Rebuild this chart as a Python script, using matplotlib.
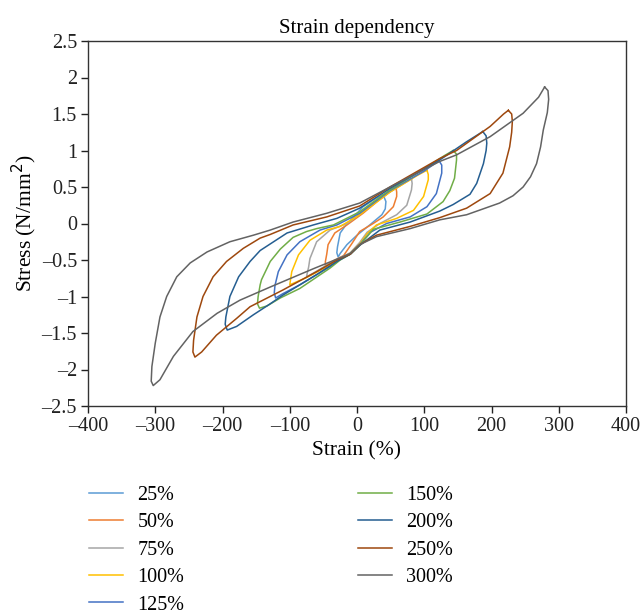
import matplotlib
matplotlib.use("Agg")
import matplotlib.pyplot as plt

plt.rcParams['font.family'] = ['Liberation Serif', 'DejaVu Serif']

labels = ["25%", "50%", "75%", "100%", "125%", "150%", "200%", "250%", "300%"]
colors = ["#5B9BD5", "#ED7D31", "#A5A5A5", "#FFC000", "#4472C4", "#70AD47",
          "#255E91", "#9E480E", "#636363"]

strain_25 = [39, 43, 42, 37, 19, 0, -15, -25, -28, -30, -29, -25, -18, -8, 9, 29, 39]
stress_25 = [0.39, 0.30, 0.20, 0.12, -0.02, -0.16, -0.29, -0.41, -0.46, -0.40, -0.32,
             -0.13, -0.04, 0.06, 0.23, 0.35, 0.39]

strain_50 = [58, 59, 59, 54, 39, 24, 4, -8, -20, -35, -47, -47, -45, -43, -33, -15, 9, 30, 50, 58]
stress_50 = [0.49, 0.43, 0.37, 0.23, 0.09, 0.00, -0.11, -0.28, -0.44, -0.51, -0.58, -0.52,
             -0.42, -0.29, -0.13, -0.02, 0.14, 0.30, 0.44, 0.49]

strain_75 = [81, 82, 81, 74, 59, 34, 15, 4, -10, -25, -45, -65, -75, -74, -72, -70, -60,
             -40, -15, 9, 40, 70, 81]
stress_75 = [0.61, 0.55, 0.46, 0.25, 0.12, 0.00, -0.12, -0.26, -0.40, -0.47, -0.57, -0.68,
             -0.73, -0.68, -0.60, -0.48, -0.25, -0.09, 0.00, 0.16, 0.38, 0.55, 0.61]

strain_100 = [104, 106, 106, 99, 84, 59, 29, 15, 4, -10, -25, -40, -75, -95, -100, -99, -97,
              -87, -70, -45, -25, 4, 49, 90, 104]
stress_100 = [0.73, 0.67, 0.60, 0.37, 0.18, 0.07, -0.02, -0.14, -0.28, -0.41, -0.48, -0.57,
              -0.74, -0.82, -0.84, -0.78, -0.66, -0.43, -0.23, -0.09, -0.04, 0.12, 0.43,
              0.66, 0.73]

strain_125 = [122, 126, 126, 118, 104, 79, 44, 20, 4, -10, -25, -40, -85, -110, -121, -123,
              -122, -117, -104, -85, -55, -30, 4, 49, 100, 122]
stress_125 = [0.86, 0.80, 0.69, 0.41, 0.23, 0.09, 0.00, -0.12, -0.29, -0.42, -0.49, -0.59,
              -0.84, -0.96, -1.02, -0.95, -0.85, -0.66, -0.43, -0.25, -0.09, -0.02, 0.14,
              0.45, 0.72, 0.86]

strain_150 = [143, 148, 148, 145, 138, 128, 104, 64, 24, 4, -10, -25, -40, -85, -114, -134,
              -145, -148, -147, -144, -142, -129, -114, -95, -75, -60, -35, 4, 49, 100, 130, 143]
stress_150 = [1.00, 0.95, 0.87, 0.62, 0.45, 0.30, 0.13, 0.02, -0.08, -0.30, -0.42, -0.50,
              -0.61, -0.89, -1.02, -1.13, -1.16, -1.10, -1.00, -0.84, -0.77, -0.52, -0.35,
              -0.19, -0.11, -0.07, -0.02, 0.16, 0.46, 0.75, 0.93, 1.00]

strain_200 = [187, 192, 193, 192, 188, 178, 168, 143, 123, 79, 34, 4, -10, -30, -60, -110,
              -129, -154, -179, -193, -196, -195, -189, -176, -159, -144, -129, -104, -65,
              -30, 4, 49, 123, 163, 182, 187]
stress_200 = [1.26, 1.20, 1.10, 1.00, 0.82, 0.55, 0.40, 0.26, 0.17, 0.02, -0.09, -0.30,
              -0.42, -0.52, -0.70, -0.98, -1.10, -1.25, -1.41, -1.46, -1.38, -1.28, -1.00,
              -0.73, -0.52, -0.37, -0.28, -0.13, -0.02, 0.07, 0.21, 0.48, 0.87, 1.12, 1.23, 1.26]

strain_250 = [225, 230, 231, 230, 227, 217, 198, 163, 123, 79, 29, 4, -10, -30, -60, -110,
              -159, -179, -209, -231, -241, -244, -243, -238, -229, -214, -194, -169, -144,
              -129, -95, -45, 4, 49, 123, 148, 198, 218, 225]
stress_250 = [1.55, 1.50, 1.40, 1.25, 1.05, 0.69, 0.41, 0.21, 0.08, -0.04, -0.16, -0.29,
              -0.42, -0.50, -0.66, -0.91, -1.14, -1.30, -1.53, -1.76, -1.83, -1.76, -1.60,
              -1.28, -1.00, -0.73, -0.52, -0.34, -0.20, -0.15, -0.02, 0.09, 0.24, 0.50, 0.89,
              1.00, 1.33, 1.50, 1.55]

strain_300 = [279, 284, 285, 283, 277, 273, 267, 258, 247, 232, 212, 163, 123, 79, 29, 4,
              -10, -25, -65, -129, -174, -208, -244, -273, -293, -303, -306, -305, -300, -293,
              -283, -268, -248, -223, -189, -154, -129, -95, -45, 4, 49, 123, 148, 198, 247,
              270, 279]
stress_300 = [1.87, 1.82, 1.70, 1.52, 1.28, 1.05, 0.82, 0.64, 0.50, 0.38, 0.28, 0.12, 0.05,
              -0.07, -0.18, -0.29, -0.41, -0.47, -0.62, -0.87, -1.05, -1.23, -1.48, -1.82,
              -2.14, -2.22, -2.16, -1.96, -1.64, -1.28, -1.00, -0.73, -0.54, -0.39, -0.25,
              -0.16, -0.09, 0.02, 0.14, 0.28, 0.50, 0.85, 0.94, 1.19, 1.51, 1.73, 1.87]

series = [(strain_25, stress_25), (strain_50, stress_50), (strain_75, stress_75),
          (strain_100, stress_100), (strain_125, stress_125), (strain_150, stress_150),
          (strain_200, stress_200), (strain_250, stress_250), (strain_300, stress_300)]

x_ticks = [-400, -300, -200, -100, 0, 100, 200, 300, 400]
y_ticks = [-2.5, -2, -1.5, -1, -0.5, 0, 0.5, 1, 1.5, 2, 2.5]


def fmt(v):
    s = "%g" % v
    return s.replace("-", "\u2013")


fig = plt.figure(figsize=(6.41, 6.16), dpi=100)
ax = fig.add_axes([88/641, 1-406/616, (626-88)/641, (406-41)/616])

for (xs, ys), lab, col in zip(series, labels, colors):
    ax.plot(xs, ys, color=col, lw=1.1, label=lab, solid_joinstyle='round')

ax.set_xlim(-400, 400)
ax.set_ylim(-2.5, 2.5)
ax.set_xticks(x_ticks)
ax.set_xticklabels([fmt(v) for v in x_ticks])
ax.set_yticks(y_ticks)
ax.set_yticklabels([fmt(v) for v in y_ticks])
ax.tick_params(direction='out', length=5, width=1, labelsize=14.5, colors='#222222',
               pad=3)
for tl in ax.get_xticklabels() + ax.get_yticklabels():
    tl.set_color('#222222')
for s in ax.spines.values():
    s.set_linewidth(1.0)
    s.set_color('#333333')

ax.set_title("Strain dependency", fontsize=15, pad=6)
ax.set_xlabel("Strain (%)", fontsize=15.5, labelpad=4)
ax.set_ylabel("Stress (N/mm$^2$)", fontsize=15.5, labelpad=2)

leg = fig.legend(loc='upper left', bbox_to_anchor=(89/641, 1-486/616), ncol=2,
                 frameon=False, fontsize=14.5, handlelength=1.7, handletextpad=0.7,
                 columnspacing=8.6, labelspacing=0.41, borderpad=0, borderaxespad=0)

fig.savefig("out.png", dpi=100)
